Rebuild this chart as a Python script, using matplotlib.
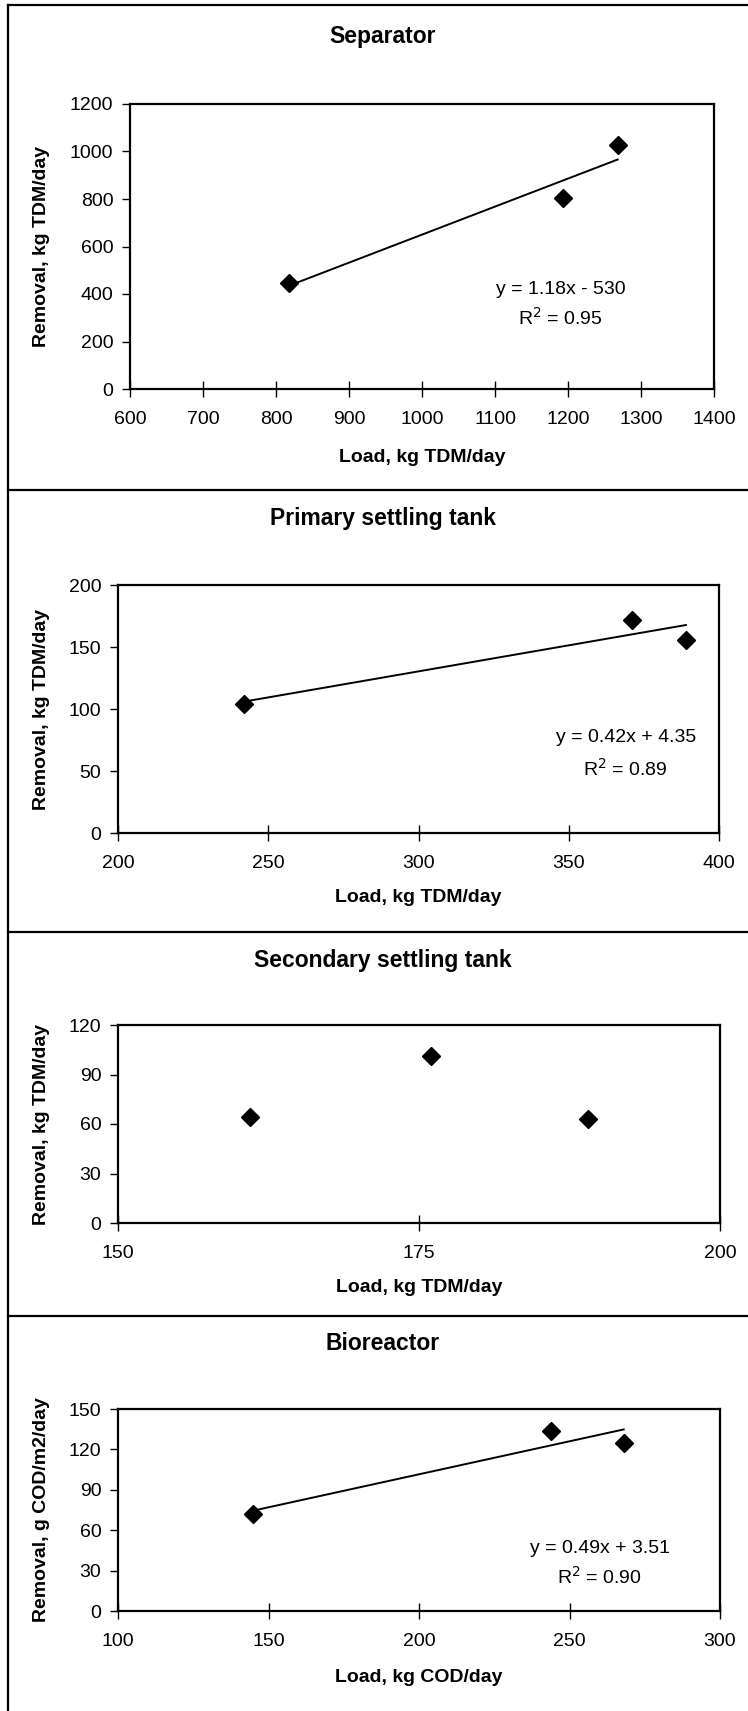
import numpy as np
import matplotlib.pyplot as plt
from matplotlib.lines import Line2D

plt.rcParams['font.family'] = ['Liberation Sans', 'DejaVu Sans']

W, H = 748, 1711

titles = ['Separator', 'Primary settling tank', 'Secondary settling tank', 'Bioreactor']
xlabels = ['Load, kg TDM/day', 'Load, kg TDM/day', 'Load, kg TDM/day', 'Load, kg COD/day']
ylabels = ['Removal, kg TDM/day', 'Removal, kg TDM/day', 'Removal, kg TDM/day',
           'Removal, g COD/m2/day']

sep_x = [818, 1193, 1268]
sep_y = [445, 804, 1027]
pri_x = [242, 371, 389]
pri_y = [104, 172, 156]
sec_x = [161, 176, 189]
sec_y = [64, 101, 63]
bio_x = [145, 244, 268]
bio_y = [72, 134, 125]

# trend line coefficients as printed on the chart (None = no trend line)
slopes = [1.18, 0.42, None, 0.49]
intercepts = [-530, 4.35, None, 3.51]
eq_texts = ['y = 1.18x - 530', 'y = 0.42x + 4.35', None, 'y = 0.49x + 3.51']
r2_texts = ['R$^2$ = 0.95', 'R$^2$ = 0.89', None, 'R$^2$ = 0.90']

xlims = [(600, 1400), (200, 400), (150, 200), (100, 300)]
ylims = [(0, 1200), (0, 200), (0, 120), (0, 150)]
xticks = [np.arange(600, 1401, 100), np.arange(200, 401, 50), [150, 175, 200],
          np.arange(100, 301, 50)]
yticks = [np.arange(0, 1201, 200), np.arange(0, 201, 50), np.arange(0, 121, 30),
          np.arange(0, 151, 30)]

xs = [sep_x, pri_x, sec_x, bio_x]
ys = [sep_y, pri_y, sec_y, bio_y]

# layout in pixels: axes (left, right, top, bottom), title y, xlabel y
boxes = [(130, 714, 104, 389), (118, 719, 585, 833), (118, 720, 1025, 1223),
         (118, 720, 1409, 1611)]
title_y = [37, 519, 960, 1343]
xlabel_y = [457, 898, 1288, 1677]
eq_pos = [(1190, 420, 298), (369, 77, 52), None, (260, 46.5, 25)]
separators = [5, 490, 932, 1316]

fig = plt.figure(figsize=(W / 100, H / 100), dpi=100)

for i in range(4):
    l, r, t, b = boxes[i]
    ax = fig.add_axes([l / W, 1 - b / H, (r - l) / W, (b - t) / H])
    ax.plot(xs[i], ys[i], 'D', color='black', ms=9.5, zorder=3)
    if slopes[i] is not None:
        x0, x1 = min(xs[i]), max(xs[i])
        ax.plot([x0, x1], [slopes[i] * x0 + intercepts[i], slopes[i] * x1 + intercepts[i]],
                color='black', lw=1.4)
        ex, ey, ry = eq_pos[i]
        ax.text(ex, ey, eq_texts[i], ha='center', va='center', fontsize=14)
        ax.text(ex, ry, r2_texts[i], ha='center', va='center', fontsize=14)
    ax.set_xlim(*xlims[i])
    ax.set_ylim(*ylims[i])
    ax.set_xticks(xticks[i])
    ax.set_yticks(yticks[i])
    ax.tick_params(axis='x', direction='inout', length=12, width=1, pad=10, labelsize=14)
    ax.tick_params(axis='y', direction='out', length=6, width=1, pad=6, labelsize=14)
    for s in ax.spines.values():
        s.set_linewidth(1.6)
    ax.set_ylabel(ylabels[i], fontsize=14, fontweight='bold')
    ax.yaxis.set_label_coords((50 - l) / (r - l), 0.5)
    fig.text((l + r) / 2 / W, 1 - xlabel_y[i] / H, xlabels[i], ha='center', va='center',
             fontsize=14, fontweight='bold')
    fig.text(383 / W, 1 - title_y[i] / H, titles[i], ha='center', va='center',
             fontsize=16.5, fontweight='bold')

# panel frame lines
for y in separators:
    fig.add_artist(Line2D([8 / W, 1], [1 - y / H, 1 - y / H], color='black', lw=1.6))
fig.add_artist(Line2D([8 / W, 8 / W], [0, 1 - 5 / H], color='black', lw=1.6))

fig.savefig('out.png', dpi=100)
